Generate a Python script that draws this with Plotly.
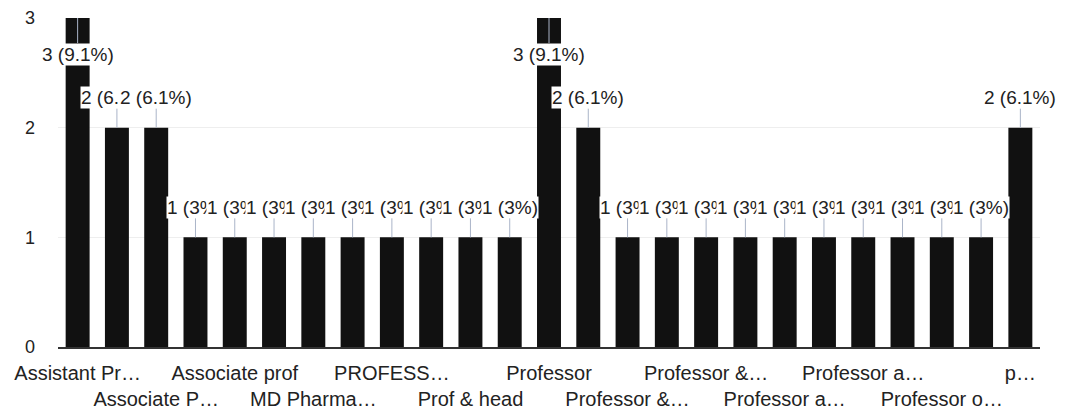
import plotly.graph_objects as go

categories = [
    "Assistant Professor", "Assistant professor", "Associate Professor",
    "Associate Professor and Head", "Associate prof", "Lecturer",
    "MD Pharmacology", "PROF", "PROFESSOR", "Prof", "Prof & head",
    "Prof and HOD", "Professor", "Professor & HOD", "Professor & Head",
    "Professor & Head of Department", "Professor & Unit Head",
    "Professor and HOD", "Professor and Head", "Professor and Unit Head",
    "Professor and head", "Professor of Medicine", "Professor of Pharmacology",
    "Professor, HOD", "professor",
]
values = [3, 2, 2, 1, 1, 1, 1, 1, 1, 1, 1, 1, 3, 2, 1, 1, 1, 1, 1, 1, 1, 1, 1, 1, 2]

tick_index = [0, 2, 4, 6, 8, 10, 12, 14, 16, 18, 20, 22, 24]
tick_labels = [
    "Assistant Pr…", "Associate P…", "Associate prof", "MD Pharma…",
    "PROFESS…", "Prof & head", "Professor", "Professor &…",
    "Professor &…", "Professor a…", "Professor a…", "Professor o…", "p…",
]
y_ticks = [0, 1, 2, 3]

total = sum(values)
vmax = max(values)

fig = go.Figure()
fig.add_trace(go.Bar(
    x=categories, y=values, marker=dict(color="#111111", line=dict(width=0)),
    hoverinfo="x+y",
))

ticktext = []
for k, lab in enumerate(tick_labels):
    ticktext.append(lab if k % 2 == 0 else "<br>" + lab)

annotations = []
for c, v in zip(categories, values):
    pct = v / total * 100
    s = f"{pct:.1f}"
    if s.endswith(".0"):
        s = s[:-2]
    annotations.append(dict(
        x=c, y=v, xref="x", yref="y",
        text=f"{v} ({s}%)",
        showarrow=True, arrowhead=0, arrowwidth=1, arrowcolor="#aab4c8",
        ax=0, ay=(36 if v == vmax else -30), standoff=0,
        bgcolor="white", borderpad=0,
        font=dict(family="Liberation Sans, Arial, sans-serif", size=19, color="#222222"),
    ))

fig.update_layout(
    width=1073, height=419,
    margin=dict(l=58, r=33, t=18, b=72, autoexpand=False),
    paper_bgcolor="white", plot_bgcolor="white",
    bargap=0.39, showlegend=False,
    font=dict(family="Liberation Sans, Arial, sans-serif", color="#222222"),
    annotations=annotations,
)
fig.update_xaxes(
    type="category", categoryorder="array", categoryarray=categories,
    range=[-0.5, len(categories) - 0.5], autorange=False, automargin=False,
    tickmode="array", tickvals=[categories[i] for i in tick_index], ticktext=ticktext,
    tickangle=0, tickfont=dict(size=20, color="#222222"),
    showline=True, linecolor="#333333", linewidth=2, showgrid=False,
    ticks="", ticklabelstandoff=7,
)
fig.update_yaxes(
    range=[0, 3], autorange=False, automargin=False, tickmode="array", tickvals=y_ticks,
    tickfont=dict(size=18, color="#222222"),
    showgrid=True, gridcolor="#eeeeee", gridwidth=1, zeroline=False,
    ticks="", ticklabelstandoff=22,
)

fig.write_html(
    "out.html",
    config={"displayModeBar": False},
    post_script="document.body.style.margin='0';document.body.style.overflow='hidden';",
)
